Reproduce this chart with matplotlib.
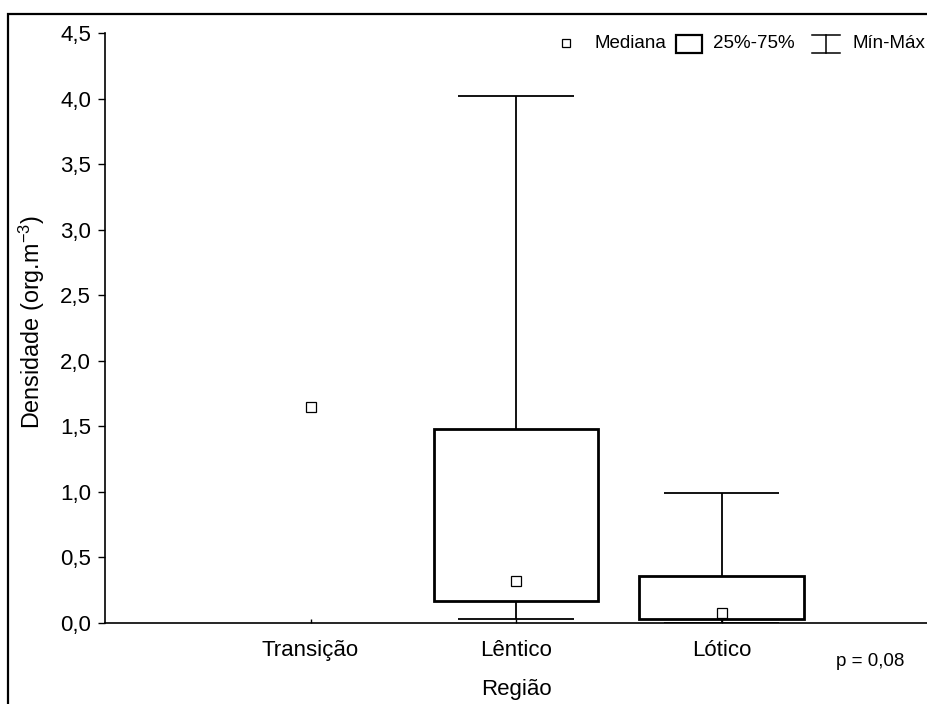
import matplotlib
matplotlib.use("Agg")
import matplotlib.pyplot as plt
from matplotlib.patches import Rectangle
from matplotlib.lines import Line2D
from matplotlib.ticker import FuncFormatter

plt.rcParams['font.family'] = ['Liberation Sans', 'DejaVu Sans']

categories = ["Transição", "Lêntico", "Lótico"]
medians = [1.65, 0.32, 0.075]
q1 = [None, 0.168, 0.03]
q3 = [None, 1.48, 0.36]
vmin = [None, 0.03, 0.0]
vmax = [None, 4.02, 0.99]
yticks = [0.0, 0.5, 1.0, 1.5, 2.0, 2.5, 3.0, 3.5, 4.0, 4.5]

W, H = 927, 704
fig = plt.figure(figsize=(W / 100, H / 100), dpi=100)

def fx(x):
    return x / W

def fy(y):
    return 1 - y / H

ax = fig.add_axes([fx(105), fy(623), fx(927) - fx(105), fy(33) - fy(623)])
xs = [1, 2, 3]

for x, lo, a, b, hi in zip(xs, vmin, q1, q3, vmax):
    if a is None:
        continue
    ax.vlines(x, b, hi, color='black', lw=1.3, zorder=2)
    ax.vlines(x, lo, a, color='black', lw=1.3, zorder=2)
    ax.hlines([lo, hi], x - 0.28, x + 0.28, color='black', lw=1.3, zorder=2)
    ax.bar(x, b - a, bottom=a, width=0.8, fill=False, edgecolor='black', lw=2.0, zorder=3)

ax.plot(xs, medians, linestyle='none', marker='s', markersize=7,
        markerfacecolor='white', markeredgecolor='black', markeredgewidth=0.9, zorder=4)

ax.set_xlim(0, 4)
ax.set_ylim(0, 4.5)
ax.set_yticks(yticks)
ax.yaxis.set_major_formatter(FuncFormatter(lambda v, p: f"{v:.1f}".replace('.', ',')))
ax.set_xticks(xs)
ax.set_xticklabels(categories)
ax.tick_params(axis='y', direction='out', length=5, width=1, labelsize=16, pad=5)
ax.tick_params(axis='x', direction='in', length=3, width=1, labelsize=16, pad=12)
for s in ['top', 'right']:
    ax.spines[s].set_visible(False)
for s in ['left', 'bottom']:
    ax.spines[s].set_linewidth(1.2)

ax.set_ylabel("Densidade (org.m$^{\\mathregular{-3}}$)", fontsize=16.8)
ax.yaxis.set_label_coords(-0.071, 0.51)
fig.text(fx(516), fy(689), "Região", fontsize=16, ha='center', va='center')
fig.text(fx(870), fy(662), "p = 0,08", fontsize=13.5, ha='center', va='center')

# figure frame
fig.patches.append(Rectangle((fx(8), -0.1), 1.2, fy(14) + 0.1, transform=fig.transFigure,
                             fill=False, edgecolor='black', lw=1.6, figure=fig))

# legend
ly = 44
fig.lines.append(Line2D([fx(566)], [fy(43)], marker='s', markersize=6, markerfacecolor='white',
                        markeredgecolor='black', markeredgewidth=0.9, linestyle='none',
                        transform=fig.transFigure, figure=fig))
fig.text(fx(595), fy(ly), "Mediana", fontsize=13.5, ha='left', va='center')
fig.patches.append(Rectangle((fx(676), fy(53)), fx(702) - fx(676), fy(35) - fy(53),
                             transform=fig.transFigure, fill=False, edgecolor='black', lw=1.6, figure=fig))
fig.text(fx(713), fy(ly), "25%-75%", fontsize=13.5, ha='left', va='center')
for (x0, y0, x1, y1) in [(812, 35, 840, 35), (812, 53, 840, 53), (826, 35, 826, 53)]:
    fig.lines.append(Line2D([fx(x0), fx(x1)], [fy(y0), fy(y1)], color='black', lw=1.1,
                            transform=fig.transFigure, figure=fig))
fig.text(fx(852), fy(ly), "Mín-Máx", fontsize=13.5, ha='left', va='center')

fig.savefig("out.png", dpi=100)
